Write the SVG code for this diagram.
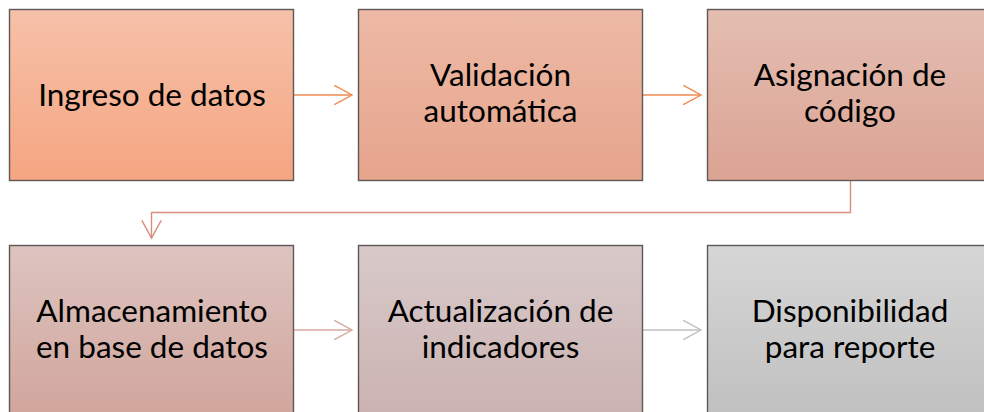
<svg xmlns="http://www.w3.org/2000/svg" width="984" height="412" viewBox="0 0 984 412">
<defs>
<linearGradient id="g1" x1="0" y1="0" x2="0" y2="1"><stop offset="0" stop-color="#F6C1A9"/><stop offset="1" stop-color="#F5A581"/></linearGradient>
<linearGradient id="g2" x1="0" y1="0" x2="0" y2="1"><stop offset="0" stop-color="#EDBAA6"/><stop offset="1" stop-color="#E6A48C"/></linearGradient>
<linearGradient id="g3" x1="0" y1="0" x2="0" y2="1"><stop offset="0" stop-color="#E4BEB2"/><stop offset="1" stop-color="#DBA393"/></linearGradient>
<linearGradient id="g4" x1="0" y1="0" x2="0" y2="1"><stop offset="0" stop-color="#DDC4C0"/><stop offset="1" stop-color="#D1A59C"/></linearGradient>
<linearGradient id="g5" x1="0" y1="0" x2="0" y2="1"><stop offset="0" stop-color="#D8CACA"/><stop offset="1" stop-color="#CBB2B1"/></linearGradient>
<linearGradient id="g6" x1="0" y1="0" x2="0" y2="1"><stop offset="0" stop-color="#D6D6D6"/><stop offset="1" stop-color="#C0C0C0"/></linearGradient>
<marker id="aO" markerUnits="userSpaceOnUse" markerWidth="22" markerHeight="22" refX="18" refY="10" orient="auto" viewBox="0 0 22 22"><path d="M0.3,0.3 L18,10 L0.3,19.7" fill="none" stroke="#EF8A52" stroke-width="1.4"/></marker>
<marker id="aD" markerUnits="userSpaceOnUse" markerWidth="22" markerHeight="22" refX="18" refY="10" orient="auto" viewBox="0 0 22 22"><path d="M0.3,0.3 L18,10 L0.3,19.7" fill="none" stroke="#D88E7C" stroke-width="1.4"/></marker>
<marker id="aP" markerUnits="userSpaceOnUse" markerWidth="22" markerHeight="22" refX="18" refY="10" orient="auto" viewBox="0 0 22 22"><path d="M0.3,0.3 L18,10 L0.3,19.7" fill="none" stroke="#D6A79F" stroke-width="1.4"/></marker>
<marker id="aG" markerUnits="userSpaceOnUse" markerWidth="22" markerHeight="22" refX="18" refY="10" orient="auto" viewBox="0 0 22 22"><path d="M0.3,0.3 L18,10 L0.3,19.7" fill="none" stroke="#BFBFBF" stroke-width="1.4"/></marker>
</defs>
<style>
.box{stroke:#5E5856;stroke-width:1.4}
.t{font-family:Lato,"Open Sans","Liberation Sans",sans-serif;font-size:31.5px;fill:#000;text-anchor:middle}
.c{fill:none;stroke-width:1.4}
</style>
<rect width="984" height="412" fill="#FFFFFF"/>
<g id="connectors">
<line class="c" x1="293.5" y1="95" x2="352" y2="95" stroke="#EF8A52" marker-end="url(#aO)"/>
<line class="c" x1="642.5" y1="95" x2="701" y2="95" stroke="#EF8A52" marker-end="url(#aO)"/>
<polyline class="c" points="850.5,180.5 850.5,212.5 151.5,212.5 151.5,238" stroke="#D88E7C" marker-end="url(#aD)"/>
<line class="c" x1="293.5" y1="330" x2="352" y2="330" stroke="#D6A79F" marker-end="url(#aP)"/>
<line class="c" x1="642.5" y1="330" x2="701" y2="330" stroke="#BFBFBF" marker-end="url(#aG)"/>
</g>
<g id="n1"><rect class="box" x="9.5" y="9.5" width="284" height="171" fill="url(#g1)"/><text class="t" x="152" y="106">Ingreso de datos</text></g>
<g id="n2"><rect class="box" x="358.5" y="9.5" width="284" height="171" fill="url(#g2)"/><text class="t" x="500.5" y="85.5">Validación</text><text class="t" x="500.5" y="122.1">automática</text></g>
<g id="n3"><rect class="box" x="707.5" y="9.5" width="284" height="171" fill="url(#g3)"/><text class="t" x="850" y="85.5">Asignación de</text><text class="t" x="850" y="122.1">código</text></g>
<g id="n4"><rect class="box" x="9.5" y="245.5" width="284" height="171" fill="url(#g4)"/><text class="t" x="152" y="321.7">Almacenamiento</text><text class="t" x="152" y="358.3">en base de datos</text></g>
<g id="n5"><rect class="box" x="358.5" y="245.5" width="284" height="171" fill="url(#g5)"/><text class="t" x="500.5" y="321.7">Actualización de</text><text class="t" x="500.5" y="358.3">indicadores</text></g>
<g id="n6"><rect class="box" x="707.5" y="245.5" width="284" height="171" fill="url(#g6)"/><text class="t" x="850" y="321.7">Disponibilidad</text><text class="t" x="850" y="358.3">para reporte</text></g>
</svg>
